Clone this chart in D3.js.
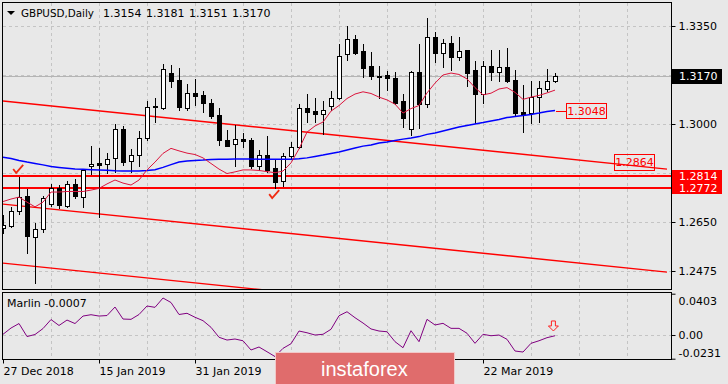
<!DOCTYPE html>
<html>
<head>
<meta charset="utf-8">
<script src="https://cdn.jsdelivr.net/npm/d3@7"></script>
<style>
  body { margin: 0; background: #e8e8e8; }
  svg { display: block; font-family: "DejaVu Sans", sans-serif; font-size: 11px; }
</style>
</head>
<body>
<div id="chart"></div>
<script>
// GBPUSD daily bars, 27 Dec 2018 .. 4 Apr 2019
const opens = [1.2629,1.2637,1.2690,1.2743,1.2598,1.2625,1.2714,1.2771,1.2707,1.2786,
  1.2739,1.2850,1.2861,1.2857,1.2879,1.2982,1.2868,1.2889,1.2950,1.3064,
  1.3058,1.3182,1.3157,1.3057,1.3111,1.3104,1.3075,1.3032,1.2943,1.2927,
  1.2948,1.2943,1.2850,1.2889,1.2843,1.2796,1.2886,1.2918,1.3057,1.3046,
  1.3036,1.3064,1.3093,1.3250,1.3304,1.3261,1.3207,1.3173,1.3175,1.3164,
  1.3082,1.2982,1.3186,1.3071,1.3311,1.3255,1.3289,1.3239,1.3264,1.3193,
  1.3107,1.3207,1.3187,1.3204,1.3157,1.3043,1.3038,1.3098,1.3125,1.3154];
const highs = [1.2675,1.2705,1.2812,1.2768,1.2646,1.2743,1.2786,1.2782,1.2796,1.2804,
  1.2839,1.2921,1.2914,1.2896,1.3000,1.2993,1.2911,1.2975,1.3082,1.3093,
  1.3214,1.3211,1.3200,1.3143,1.3161,1.3118,1.3089,1.3057,1.2979,1.2996,
  1.2968,1.2950,1.2907,1.2957,1.2875,1.2896,1.2936,1.3071,1.3107,1.3093,
  1.3082,1.3118,1.3284,1.3350,1.3318,1.3286,1.3257,1.3207,1.3189,1.3186,
  1.3107,1.3189,1.3286,1.3380,1.3329,1.3304,1.3314,1.3311,1.3266,1.3225,
  1.3225,1.3264,1.3264,1.3271,1.3193,1.3139,1.3154,1.3152,1.3195,1.3181];
const lows = [1.2611,1.2631,1.2679,1.2540,1.2433,1.2614,1.2707,1.2700,1.2704,1.2736,
  1.2704,1.2821,1.2668,1.2825,1.2829,1.2854,1.2829,1.2850,1.2943,1.3007,
  1.3055,1.3132,1.3050,1.3050,1.3068,1.3043,1.3021,1.2925,1.2920,1.2850,
  1.2918,1.2843,1.2836,1.2829,1.2771,1.2779,1.2875,1.2914,1.3007,1.3007,
  1.2964,1.3050,1.3089,1.3229,1.3250,1.3168,1.3161,1.3093,1.3121,1.3071,
  1.2989,1.2961,1.2986,1.3061,1.3221,1.3204,1.3193,1.3229,1.3136,1.3004,
  1.3075,1.3157,1.3154,1.3150,1.3032,1.2973,1.3005,1.3007,1.3118,1.3151];
const closes = [1.2639,1.2690,1.2740,1.2600,1.2625,1.2736,1.2771,1.2711,1.2786,1.2743,
  1.2836,1.2857,1.2854,1.2875,1.2982,1.2864,1.2889,1.2950,1.3061,1.3060,
  1.3195,1.3154,1.3061,1.3111,1.3100,1.3075,1.3029,1.2943,1.2923,1.2945,
  1.2939,1.2850,1.2889,1.2836,1.2793,1.2886,1.2918,1.3057,1.3043,1.3036,
  1.3050,1.3093,1.3243,1.3304,1.3254,1.3200,1.3171,1.3171,1.3164,1.3075,
  1.3021,1.3186,1.3071,1.3311,1.3254,1.3289,1.3239,1.3259,1.3182,1.3107,
  1.3207,1.3186,1.3202,1.3154,1.3039,1.3034,1.3098,1.3127,1.3154,1.3170];

// moving averages (red = fast, blue = slow)
const maFast = [1.2723,1.2732,1.2739,1.2721,1.2704,1.2721,1.2757,1.2757,1.2759,1.2759,
  1.2759,1.2764,1.2770,1.2786,1.2800,1.2789,1.2782,1.2800,1.2836,1.2864,
  1.2895,1.2913,1.2904,1.2896,1.2891,1.2879,1.2859,1.2839,1.2823,1.2829,
  1.2836,1.2836,1.2834,1.2830,1.2826,1.2832,1.2861,1.2911,1.2971,1.2993,
  1.3007,1.3046,1.3066,1.3091,1.3107,1.3115,1.3109,1.3096,1.3086,1.3071,
  1.3039,1.3055,1.3066,1.3111,1.3146,1.3175,1.3182,1.3177,1.3161,1.3130,
  1.3104,1.3110,1.3125,1.3130,1.3113,1.3088,1.3096,1.3102,1.3111,1.3121];
const maSlow = [1.2881,1.2877,1.2870,1.2864,1.2859,1.2854,1.2848,1.2845,1.2842,1.2839,
  1.2838,1.2837,1.2836,1.2835,1.2833,1.2832,1.2832,1.2832,1.2834,1.2837,
  1.2845,1.2855,1.2864,1.2868,1.2870,1.2871,1.2873,1.2874,1.2874,1.2875,
  1.2875,1.2875,1.2874,1.2874,1.2874,1.2874,1.2874,1.2876,1.2879,1.2884,
  1.2889,1.2895,1.2900,1.2907,1.2914,1.2921,1.2925,1.2932,1.2936,1.2941,
  1.2946,1.2950,1.2955,1.2963,1.2968,1.2975,1.2982,1.2989,1.2995,1.3000,
  1.3005,1.3011,1.3016,1.3023,1.3027,1.3030,1.3034,1.3039,1.3045,1.3048];

// Marlin oscillator
const marlin = [0.0007,0.0068,0.0112,-0.0015,0.0005,0.0063,0.0151,0.0093,0.0146,0.0112,
  0.0185,0.0198,0.0185,0.0190,0.0273,0.0156,0.0153,0.0200,0.0283,0.0270,
  0.0361,0.0317,0.0200,0.0212,0.0173,0.0140,0.0075,-0.0022,-0.0049,-0.0039,
  -0.0056,-0.0146,-0.0117,-0.0163,-0.0210,-0.0130,-0.0085,0.0039,0.0022,0.0000,
  0.0007,0.0056,0.0188,0.0227,0.0169,0.0117,0.0059,0.0039,0.0032,-0.0065,
  -0.0124,0.0042,-0.0065,0.0153,0.0098,0.0114,0.0065,0.0065,0.0017,-0.0081,
  0.0007,-0.0007,0.0000,-0.0042,-0.0156,-0.0166,-0.0081,-0.0056,-0.0026,-0.0007];

const dateTicks = [0, 12, 24, 36, 48, 60];
const dateLabels = ["27 Dec 2018", "15 Jan 2019", "31 Jan 2019", "", "", "22 Mar 2019"];
const gridTicks = [1.2475, 1.2650, 1.2825, 1.3000, 1.3175, 1.3350];
const priceTicks = [1.2475, 1.2650, 1.3000, 1.3350];
const marlinTicks = [0.0403, 0, -0.0231];
const levels = [1.2814, 1.2772];
// channel lines: [bar, price, bar, price]
const channels = [[0, 1.3082, 83, 1.2839], [0, 1.2714, 83, 1.2471], [0, 1.2503, 83, 1.2260]];
const channelLabel = 1.2864;
const checks = [[1.9, 1.2836], [33.9, 1.2746]];
const arrowBar = 68.8, arrowTop = 0.0137;

const width = 728, height = 384;
const svg = d3.select("#chart").append("svg")
  .attr("width", width)
  .attr("height", height);

svg.append("rect").attr("width", width).attr("height", height).attr("fill", "#e8e8e8");

const x = d3.scaleLinear().domain([0, 69]).range([3, 555]);
const y = d3.scaleLinear().domain([1.2475, 1.3350]).range([271, 26]);
const ym = d3.scaleLinear().domain([-0.0231, 0.0403]).range([358.7, 293.7]);
const px = v => Math.round(v) + 0.5;

svg.append("clipPath").attr("id", "clipMain")
  .append("rect").attr("x", 3).attr("y", 3).attr("width", 668).attr("height", 286);

// grid
const grid = svg.append("g")
  .attr("stroke", "#c4c4c4")
  .attr("stroke-dasharray", "3,3");
d3.range(6, 84, 6).forEach(i => {
  grid.append("line").attr("x1", px(x(i))).attr("x2", px(x(i))).attr("y1", 3).attr("y2", 289);
  grid.append("line").attr("x1", px(x(i))).attr("x2", px(x(i))).attr("y1", 293).attr("y2", 359);
});
gridTicks.forEach(p => {
  grid.append("line").attr("x1", 3).attr("x2", 671).attr("y1", px(y(p))).attr("y2", px(y(p)));
});
grid.append("line").attr("x1", 3).attr("x2", 671).attr("y1", px(ym(0))).attr("y2", px(ym(0)));

const main = svg.append("g").attr("clip-path", "url(#clipMain)");

// current price line
main.append("line")
  .attr("x1", 3).attr("x2", 671)
  .attr("y1", px(y(closes[69]))).attr("y2", px(y(closes[69])))
  .attr("stroke", "#b4b4b4");

// channel
channels.forEach(c => {
  main.append("line")
    .attr("x1", x(c[0])).attr("y1", y(c[1]))
    .attr("x2", x(c[2])).attr("y2", y(c[3]))
    .attr("stroke", "#ff0000").attr("stroke-width", 1.4);
});

// horizontal levels
levels.forEach(l => {
  main.append("line")
    .attr("x1", 3).attr("x2", 671)
    .attr("y1", Math.round(y(l))).attr("y2", Math.round(y(l)))
    .attr("stroke", "#ff0000").attr("stroke-width", 2);
});

// candles
const bars = main.append("g").selectAll("g")
  .data(d3.range(opens.length))
  .enter().append("g");
bars.append("line")
  .attr("x1", i => px(x(i))).attr("x2", i => px(x(i)))
  .attr("y1", i => Math.round(y(highs[i]))).attr("y2", i => Math.round(y(lows[i])) + 1)
  .attr("stroke", "#000");
bars.append("rect")
  .attr("x", i => Math.round(x(i)) - 1.5)
  .attr("y", i => px(y(Math.max(opens[i], closes[i]))))
  .attr("width", 4)
  .attr("height", i => Math.max(Math.round(y(Math.min(opens[i], closes[i]))) - Math.round(y(Math.max(opens[i], closes[i]))), 1))
  .attr("fill", i => closes[i] >= opens[i] ? "#ffffff" : "#000000")
  .attr("stroke", "#000");

// moving averages
const line = d3.line().x((d, i) => x(i));
main.append("path")
  .attr("d", line.y(d => y(d))(maSlow))
  .attr("fill", "none").attr("stroke", "#0000ff").attr("stroke-width", 1.5);
main.append("path")
  .attr("d", line.y(d => y(d))(maFast))
  .attr("fill", "none").attr("stroke", "#dc143c").attr("stroke-width", 1);

// check marks
checks.forEach(c => {
  const cx = x(c[0]), cy = y(c[1]);
  main.append("path")
    .attr("d", `M${cx - 5},${cy - 1} L${cx - 2},${cy + 3} L${cx + 5},${cy - 5}`)
    .attr("fill", "none").attr("stroke", "#f02a10").attr("stroke-width", 1.8);
});

// MA label
const maY = y(maSlow[69]);
svg.append("line").attr("x1", x(69) + 1).attr("x2", 566).attr("y1", px(maY)).attr("y2", px(maY))
  .attr("stroke", "#ff0000");
svg.append("rect").attr("x", 566.5).attr("y", Math.round(maY) - 7.5).attr("width", 40).attr("height", 15)
  .attr("fill", "none").attr("stroke", "#ff0000");
svg.append("text").attr("x", 586.5).attr("y", maY).attr("dy", "0.36em")
  .attr("text-anchor", "middle").attr("fill", "#ff0000").text(maSlow[69].toFixed(4));

// channel label
const chY = y(channelLabel);
svg.append("rect").attr("x", 614.5).attr("y", Math.round(chY) - 7.5).attr("width", 40).attr("height", 16)
  .attr("fill", "none").attr("stroke", "#ff0000");
svg.append("text").attr("x", 634.5).attr("y", chY).attr("dy", "0.4em")
  .attr("text-anchor", "middle").attr("fill", "#ff0000").text(channelLabel.toFixed(4));

// Marlin panel
svg.append("path")
  .attr("d", d3.line().x((d, i) => x(i)).y(d => ym(d))(marlin))
  .attr("fill", "none").attr("stroke", "#800080").attr("stroke-width", 1);
svg.append("path")
  .attr("d", `M${x(arrowBar) - 2},${ym(arrowTop)} h4 v5 h3 l-5,5 l-5,-5 h3 Z`)
  .attr("fill", "#e8e8e8").attr("stroke", "#ff2020").attr("stroke-width", 1);
svg.append("text").attr("x", 7).attr("y", 307).attr("fill", "#000")
  .text("Marlin " + marlin[69].toFixed(4));

// frames
svg.append("rect").attr("x", 2.5).attr("y", 2.5).attr("width", 669).attr("height", 287)
  .attr("fill", "none").attr("stroke", "#000");
svg.append("rect").attr("x", 2.5).attr("y", 292.5).attr("width", 669).attr("height", 67)
  .attr("fill", "none").attr("stroke", "#000");

// price axis
const yAxis = svg.append("g")
  .attr("transform", "translate(671.5,0)")
  .call(d3.axisRight(y).tickValues(gridTicks).tickSize(4).tickPadding(3)
    .tickFormat(d => priceTicks.includes(d) ? d3.format(".4f")(d) : ""));
yAxis.select(".domain").remove();
yAxis.selectAll("text").attr("font-family", "DejaVu Sans").attr("font-size", 11).attr("fill", "#000");

// marlin axis
const mAxis = svg.append("g")
  .attr("transform", "translate(671.5,0)")
  .call(d3.axisRight(ym).tickValues(marlinTicks).tickSize(4).tickPadding(3)
    .tickFormat(d => d === 0 ? "0.00" : d.toFixed(4)));
mAxis.select(".domain").remove();
mAxis.selectAll("text").attr("font-family", "DejaVu Sans").attr("font-size", 11).attr("fill", "#000")
  .attr("dy", d => d > 0 ? "0.95em" : d < 0 ? "-0.2em" : "0.32em");

// date axis
const xAxis = svg.append("g")
  .attr("transform", "translate(0,359.5)")
  .call(d3.axisBottom(x).tickValues(dateTicks).tickSize(4).tickPadding(4)
    .tickFormat((d, i) => dateLabels[i]));
xAxis.select(".domain").remove();
xAxis.selectAll("text").attr("font-family", "DejaVu Sans").attr("font-size", 11).attr("fill", "#000")
  .attr("text-anchor", "start");
xAxis.selectAll(".tick").attr("transform", d => `translate(${px(x(d))},0)`);

// level labels
levels.forEach(l => {
  const ly = Math.round(y(l));
  svg.append("rect").attr("x", 672).attr("y", ly - 6).attr("width", 50).attr("height", 12).attr("fill", "#ff0000");
  svg.append("text").attr("x", 679).attr("y", ly).attr("dy", "0.36em").attr("fill", "#fff").text(l.toFixed(4));
});

// current price label
const cy = Math.round(y(closes[69]));
svg.append("rect").attr("x", 672).attr("y", cy - 7).attr("width", 50).attr("height", 15).attr("fill", "#000");
svg.append("text").attr("x", 679).attr("y", cy).attr("dy", "0.36em").attr("fill", "#fff").text(closes[69].toFixed(4));

// title
svg.append("path").attr("d", "M7,11 L15,11 L11,15 Z").attr("fill", "#000");
svg.append("text").attr("x", 21).attr("y", 17).attr("textLength", 73).attr("lengthAdjust", "spacingAndGlyphs")
  .text("GBPUSD,Daily");
[opens[69], highs[69], lows[69], closes[69]].forEach((v, k) => {
  svg.append("text").attr("x", 103 + 43 * k).attr("y", 17).text(v.toFixed(4));
});

// watermark
svg.append("rect").attr("x", 275.5).attr("y", 352.5).attr("width", 179).attr("height", 32)
  .attr("fill", "#e06c6c").attr("stroke", "#f2c8c8");
svg.append("text").attr("x", 321).attr("y", 376)
  .attr("font-family", "Liberation Sans, Arial, sans-serif").attr("font-size", 20)
  .attr("fill", "#ffffff").text("instaforex");
</script>
</body>
</html>
